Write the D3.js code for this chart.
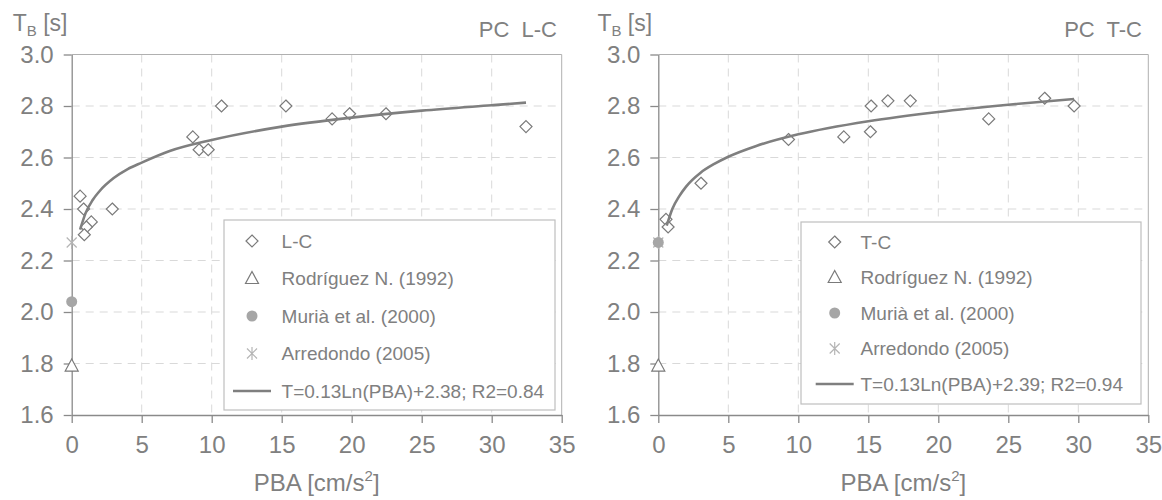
<!DOCTYPE html>
<html><head><meta charset="utf-8">
<script src="https://cdn.jsdelivr.net/npm/d3@7/dist/d3.min.js"></script>
<style>
html,body{margin:0;padding:0;background:#fff;}
svg{display:block;font-family:"Liberation Sans",Arial,sans-serif;}
</style></head>
<body>
<svg id="chart" width="1162" height="500"></svg>
<script>
// ---- data ----
const xTicks = [0, 5, 10, 15, 20, 25, 30, 35];
const yTicks = [1.6, 1.8, 2.0, 2.2, 2.4, 2.6, 2.8, 3.0];

const lcPoints = [[0.6,2.45],[0.85,2.40],[1.4,2.35],[1.05,2.33],[0.9,2.30],[2.9,2.40],[8.65,2.68],[9.1,2.63],[9.75,2.63],[10.7,2.80],[15.3,2.80],[18.6,2.75],[19.85,2.77],[22.45,2.77],[32.45,2.72]];
const lcTrend = [[0.6,2.32],[1,2.385],[1.5,2.435],[2,2.47],[3,2.52],[4,2.555],[5,2.58],[7,2.625],[10,2.668],[15,2.72],[20,2.755],[25,2.782],[30,2.803],[32.45,2.813]];

const tcPoints = [[0.55,2.36],[0.7,2.33],[3.05,2.50],[9.3,2.67],[13.25,2.68],[15.2,2.80],[15.15,2.70],[16.4,2.82],[18.0,2.82],[23.6,2.75],[27.6,2.83],[29.7,2.80]];
const tcTrend = [[0.6,2.335],[1,2.40],[1.5,2.45],[2,2.488],[3,2.54],[4,2.575],[5,2.603],[7,2.645],[10,2.69],[15,2.741],[20,2.777],[25,2.805],[29.7,2.827]];

const rodriguezL = [[0, 1.79]];
const muriaL = [[0, 2.04]];
const arredondoL = [[0, 2.27]];
const rodriguezT = [[0, 1.79]];
const muriaT = [[0, 2.27]];
const arredondoT = [[0, 2.27]];

const legendLabelsL = ["L-C", "Rodríguez N. (1992)", "Murià et al. (2000)", "Arredondo (2005)", "T=0.13Ln(PBA)+2.38; R2=0.84"];
const legendLabelsT = ["T-C", "Rodríguez N. (1992)", "Murià et al. (2000)", "Arredondo (2005)", "T=0.13Ln(PBA)+2.39; R2=0.94"];

// ---- styles ----
const TXT = "#808080", AX = "#8a8a8a", GRID = "#d9d9d9";
const svg = d3.select("#chart");

function marker(g, type, cx, cy) {
  if (type === "diamond") {
    g.append("path").attr("d", `M${cx},${cy-6}L${cx+6},${cy}L${cx},${cy+6}L${cx-6},${cy}Z`)
      .attr("fill", "#fff").attr("stroke", "#7a7a7a").attr("stroke-width", 1.2);
  } else if (type === "triangle") {
    g.append("path").attr("d", `M${cx},${cy-7}L${cx+6.5},${cy+5}L${cx-6.5},${cy+5}Z`)
      .attr("fill", "#fff").attr("stroke", "#7a7a7a").attr("stroke-width", 1.2);
  } else if (type === "circle") {
    g.append("circle").attr("cx", cx).attr("cy", cy).attr("r", 5.5).attr("fill", "#a6a6a6");
  } else if (type === "star") {
    g.append("path").attr("d", `M${cx-5},${cy-5}L${cx+5},${cy+5}M${cx+5},${cy-5}L${cx-5},${cy+5}M${cx},${cy-6.5}L${cx},${cy+6.5}`)
      .attr("stroke", "#b5b5b5").attr("stroke-width", 1.2).attr("fill", "none");
  }
}

function panel(o) {
  const x = d3.scaleLinear().domain([0, 35]).range([o.x0, o.x1]);
  const y = d3.scaleLinear().domain([1.6, 3.0]).range([415, 54.5]);
  const g = svg.append("g");

  // grid
  g.append("g").selectAll("line").data(xTicks.filter(d => d > 0 && d < 35)).join("line")
    .attr("x1", d => x(d)).attr("x2", d => x(d)).attr("y1", y(3.0)).attr("y2", y(1.6))
    .attr("stroke", GRID).attr("stroke-dasharray", "8,6").attr("stroke-width", 1);
  g.append("g").selectAll("line").data(yTicks.filter(d => d > 1.6 && d < 3.0)).join("line")
    .attr("x1", x(0)).attr("x2", x(35)).attr("y1", d => y(d)).attr("y2", d => y(d))
    .attr("stroke", GRID).attr("stroke-dasharray", "8,6").attr("stroke-width", 1);

  // frame top/right
  g.append("path").attr("d", `M${x(0)},${y(3.0)}H${x(35)}V${y(1.6)}`)
    .attr("fill", "none").attr("stroke", "#b0b0b0").attr("stroke-width", 1);

  // axes
  const ya = g.append("g").attr("transform", `translate(${x(0)},0)`)
    .call(d3.axisLeft(y).tickValues(yTicks).tickFormat(d3.format(".1f")).tickSize(8).tickSizeOuter(0).tickPadding(10));
  const xa = g.append("g").attr("transform", `translate(0,${y(1.6)})`)
    .call(d3.axisBottom(x).tickValues(xTicks).tickFormat(d3.format("d")).tickSize(8).tickSizeOuter(0).tickPadding(13));
  [ya, xa].forEach(a => {
    a.select(".domain").attr("stroke", AX).attr("stroke-width", 1.3);
    a.selectAll(".tick line").attr("stroke", AX).attr("stroke-width", 1.3);
    a.selectAll("text").attr("fill", TXT).style("font-size", "24px").style("font-family", "'Liberation Sans',Arial,sans-serif");
  });

  // markers
  o.points.forEach(p => marker(g, "diamond", x(p[0]), y(p[1])));
  o.rod.forEach(p => marker(g, "triangle", x(p[0]), y(p[1])));
  o.arr.forEach(p => marker(g, "star", x(p[0]), y(p[1])));
  o.mur.forEach(p => marker(g, "circle", x(p[0]), y(p[1])));

  // trend
  g.append("path").datum(o.trend)
    .attr("d", d3.line().x(d => x(d[0])).y(d => y(d[1])).curve(d3.curveMonotoneX))
    .attr("fill", "none").attr("stroke", "#7f7f7f").attr("stroke-width", 2.6);

  // titles
  const yt = g.append("text").attr("x", o.ytX).attr("y", 31).attr("fill", TXT).style("font-size", "23px");
  yt.append("tspan").text("T");
  yt.append("tspan").text("B").style("font-size", "15px").attr("dy", 5);
  yt.append("tspan").text(" [s]").attr("dy", -5);

  g.append("text").attr("x", o.titleX).attr("y", 37).attr("text-anchor", "end").attr("fill", TXT)
    .style("font-size", "22px").style("white-space", "pre").attr("xml:space", "preserve").text(o.title);

  const xt = g.append("text").attr("x", (x(0) + x(35)) / 2).attr("y", 491).attr("text-anchor", "middle")
    .attr("fill", TXT).style("font-size", "24px");
  xt.append("tspan").text("PBA [cm/s");
  xt.append("tspan").text("2").style("font-size", "15px").attr("dy", -10);
  xt.append("tspan").text("]").attr("dy", 10);

  // legend
  const L = o.legend;
  const lg = g.append("g");
  lg.append("rect").attr("x", L.x).attr("y", L.y).attr("width", L.w).attr("height", L.h)
    .attr("fill", "#fff").attr("stroke", "#bfbfbf").attr("stroke-width", 1.2);
  const types = ["diamond", "triangle", "circle", "star", "line"];
  o.labels.forEach((lab, i) => {
    const cy = L.y + L.first + i * L.step;
    if (types[i] === "line") {
      lg.append("line").attr("x1", L.symX - 19).attr("x2", L.symX + 19).attr("y1", cy).attr("y2", cy)
        .attr("stroke", "#7f7f7f").attr("stroke-width", 2.6);
    } else {
      marker(lg, types[i], L.symX, cy);
    }
    lg.append("text").attr("x", L.textX).attr("y", cy).attr("dy", "0.35em").attr("fill", TXT)
      .style("font-size", "19px").text(lab);
  });
}

panel({
  x0: 71.7, x1: 561.7, points: lcPoints, trend: lcTrend,
  rod: rodriguezL, mur: muriaL, arr: arredondoL,
  ytX: 12.7, titleX: 557, title: "PC  L-C", labels: legendLabelsL,
  legend: {x: 224, y: 220, w: 331, h: 190, first: 21, step: 37.5, symX: 252, textX: 281.6}
});
panel({
  x0: 658.3, x1: 1148.3, points: tcPoints, trend: tcTrend,
  rod: rodriguezT, mur: muriaT, arr: arredondoT,
  ytX: 597.4, titleX: 1142, title: "PC  T-C", labels: legendLabelsT,
  legend: {x: 801, y: 222, w: 340, h: 182, first: 20, step: 35.5, symX: 834.7, textX: 860.5}
});
</script>
</body></html>
